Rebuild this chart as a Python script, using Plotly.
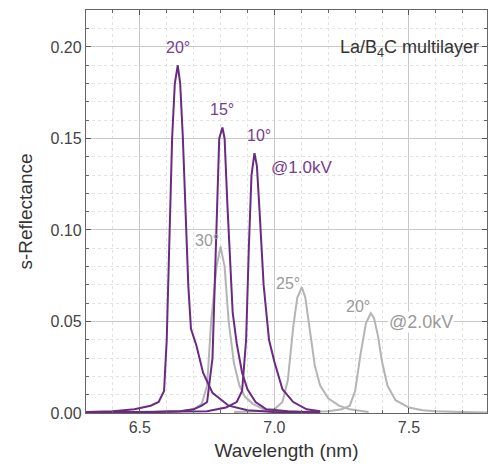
import plotly.graph_objects as go

# Purple curves (@1.0 kV)
p20_x = [6.30, 6.40, 6.48, 6.54, 6.57, 6.59, 6.60, 6.61, 6.62, 6.63, 6.641, 6.65, 6.66, 6.67, 6.68, 6.69, 6.71, 6.735, 6.77, 6.83, 6.9, 7.0, 7.17]
p20_y = [0.0005, 0.001, 0.002, 0.004, 0.006, 0.012, 0.04, 0.09, 0.15, 0.18, 0.190, 0.18, 0.15, 0.11, 0.07, 0.046, 0.037, 0.022, 0.011, 0.004, 0.0015, 0.0005, 0.0003]
p15_x = [6.30, 6.55, 6.65, 6.70, 6.73, 6.75, 6.77, 6.785, 6.795, 6.807, 6.815, 6.825, 6.835, 6.845, 6.86, 6.88, 6.90, 6.93, 6.97, 7.05, 7.17]
p15_y = [0.0003, 0.0005, 0.001, 0.002, 0.004, 0.006, 0.03, 0.10, 0.15, 0.156, 0.15, 0.115, 0.085, 0.055, 0.038, 0.022, 0.013, 0.006, 0.002, 0.001, 0.0003]
p10_x = [6.30, 6.60, 6.75, 6.82, 6.86, 6.88, 6.895, 6.905, 6.915, 6.926, 6.935, 6.945, 6.96, 6.98, 7.00, 7.03, 7.07, 7.12, 7.17]
p10_y = [0.0003, 0.0005, 0.001, 0.003, 0.006, 0.012, 0.04, 0.09, 0.13, 0.142, 0.135, 0.11, 0.07, 0.04, 0.028, 0.013, 0.006, 0.002, 0.001]

# Gray curves (@2.0 kV)
g30_x = [6.30, 6.55, 6.65, 6.70, 6.73, 6.75, 6.765, 6.785, 6.80, 6.815, 6.83, 6.85, 6.87, 6.89, 6.92, 6.96, 7.00, 7.10]
g30_y = [0.0003, 0.0005, 0.001, 0.002, 0.005, 0.015, 0.05, 0.08, 0.091, 0.08, 0.05, 0.027, 0.015, 0.009, 0.005, 0.002, 0.001, 0.0005]
g25_x = [6.85, 6.95, 7.00, 7.03, 7.05, 7.07, 7.085, 7.102, 7.115, 7.13, 7.15, 7.17, 7.20, 7.24, 7.28, 7.35]
g25_y = [0.0005, 0.001, 0.002, 0.006, 0.018, 0.047, 0.063, 0.0687, 0.063, 0.048, 0.026, 0.015, 0.008, 0.004, 0.002, 0.0005]
g20_x = [7.10, 7.20, 7.25, 7.28, 7.30, 7.32, 7.34, 7.358, 7.37, 7.385, 7.40, 7.42, 7.45, 7.50, 7.55, 7.60, 7.70, 7.79]
g20_y = [0.0005, 0.001, 0.002, 0.004, 0.012, 0.032, 0.049, 0.0545, 0.052, 0.042, 0.028, 0.015, 0.007, 0.003, 0.0015, 0.001, 0.0005, 0.0003]

PURPLE = "#6a2a82"
PURPLE_T = "#7a3c90"
GRAY = "#b4b4b4"
GRAY_T = "#9a9a9a"

fig = go.Figure()
for x, y in [(g30_x, g30_y), (g25_x, g25_y), (g20_x, g20_y)]:
    fig.add_trace(go.Scatter(x=x, y=y, mode="lines", line=dict(color=GRAY, width=2), showlegend=False))
for x, y in [(p20_x, p20_y), (p15_x, p15_y), (p10_x, p10_y)]:
    fig.add_trace(go.Scatter(x=x, y=y, mode="lines", line=dict(color=PURPLE, width=2), showlegend=False))

FONT = "Liberation Sans, Arial, sans-serif"
ann = [
    (6.641, 0.1995, "20°", PURPLE_T, 16, None),
    (6.807, 0.166, "15°", PURPLE_T, 16, None),
    (6.944, 0.1514, "10°", PURPLE_T, 16, None),
    (7.10, 0.134, "@1.0kV", PURPLE_T, 17, None),
    (6.748, 0.094, "30°", GRAY_T, 16, None),
    (7.05, 0.071, "25°", GRAY_T, 16, None),
    (7.31, 0.058, "20°", GRAY_T, 16, None),
    (7.545, 0.0495, "@2.0kV", GRAY_T, 18, "white"),
]
for x, y, t, c, s, bg in ann:
    fig.add_annotation(x=x, y=y, text=t, showarrow=False, xanchor="center",
                       font=dict(color=c, size=s, family=FONT),
                       bgcolor=bg if bg else "rgba(0,0,0,0)", borderpad=0)
fig.add_annotation(xref="paper", yref="paper", x=0.985, y=0.938, text="La/B<sub>4</sub>C multilayer",
                   showarrow=False, xanchor="right", width=170, align="right",
                   font=dict(color="#333333", size=18, family=FONT))

axcommon = dict(showline=True, linecolor="#666666", linewidth=1.3, mirror="allticks",
                ticks="inside", ticklen=5, tickcolor="#555555", automargin=False,
                showgrid=True, gridcolor="#c9c9c9", gridwidth=1, zeroline=False,
                tickfont=dict(size=16, color="#444444", family=FONT))

fig.update_xaxes(range=[6.3, 7.79], tick0=6.5, dtick=0.5, tickformat=".1f",
                 title=dict(text="Wavelength (nm)", font=dict(size=19, color="#333333", family=FONT), standoff=8),
                 minor=dict(dtick=0.1, tick0=6.3, ticks="inside", ticklen=3, tickcolor="#666666",
                            showgrid=True, gridcolor="#e2e2e2", griddash="dot"),
                 **axcommon)
fig.update_yaxes(range=[0, 0.2202], tick0=0, dtick=0.05, tickformat=".2f",
                 title=dict(text="s-Reflectance", font=dict(size=19, color="#333333", family=FONT), standoff=12),
                 minor=dict(dtick=0.01, ticks="inside", ticklen=3, tickcolor="#666666",
                            showgrid=True, gridcolor="#e2e2e2", griddash="dot"),
                 **axcommon)

fig.update_layout(width=489, height=472, margin=dict(l=86, r=2, t=10, b=59),
                  plot_bgcolor="white", paper_bgcolor="white", font=dict(family=FONT))
fig.write_html("out.html", config={"displayModeBar": False},
               post_script="document.body.style.margin='0';document.body.style.overflow='hidden';")
